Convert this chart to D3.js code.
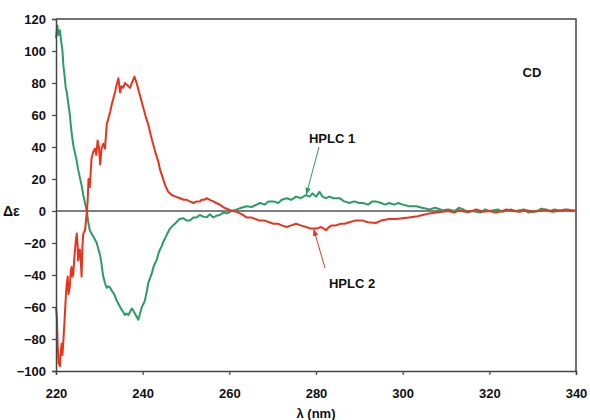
<!DOCTYPE html>
<html>
<head>
<meta charset="utf-8">
<script src="https://cdn.jsdelivr.net/npm/d3@7"></script>
<style>
  body { margin: 0; background: #fff; }
  svg text { font-family: "Liberation Sans", Arial, sans-serif; font-weight: bold; fill: #111; }
</style>
</head>
<body>
<svg id="chart" width="590" height="420"></svg>
<script>
// HPLC 1 (green) : wavelength (nm) / delta epsilon
const hplc1Nm = [220.0,220.3,220.6,220.9,221.2,221.5,221.7,222.0,222.2,222.5,222.8,223.0,223.2,223.4,223.6,223.8,224.0,224.4,224.8,225.1,225.5,225.9,226.3,226.7,227.1,227.5,227.8,228.2,228.6,229.0,229.4,229.8,230.2,230.5,230.9,231.3,231.7,232.1,232.5,232.9,233.2,233.6,234.0,234.4,234.8,235.2,235.5,235.9,236.3,236.7,237.1,237.5,237.8,238.2,238.6,239.0,239.4,239.8,240.2,240.5,240.9,241.3,241.7,242.1,242.5,242.8,243.2,243.6,244.0,244.4,244.8,245.2,245.7,246.3,247.0,247.8,248.5,249.4,250.2,250.9,251.7,252.5,253.2,254.0,254.8,255.5,256.3,257.0,257.8,258.6,259.4,260.5,261.7,262.8,264.0,265.2,266.3,267.1,268.2,269.0,270.2,271.3,272.1,273.2,274.3,275.4,276.5,277.7,278.5,279.2,280.0,280.8,281.5,282.3,283.1,284.0,285.4,286.5,287.7,288.8,290.0,290.8,292.0,293.0,293.8,295.0,296.0,296.9,298.0,299.0,300.0,301.5,303.1,304.5,306.2,307.5,309.2,310.5,312,313,314,315,316,318,319,320,322,323,325,326,328,329,331,332,334,335,337,338,340];
const hplc1De = [108,116,110,113,106,100,91,84,78,74,68,64,60,54,49,45,41,36,31,26,21,16,10,5,0,-8,-12,-14,-16,-18,-20,-24,-28,-33,-41,-45,-48,-47,-48,-50,-51,-53,-56,-58,-60,-62,-63,-65,-64,-65,-63,-61,-62,-64,-66,-68,-64,-60,-58,-56,-51,-45,-42,-39,-35,-33,-31,-27,-24,-22,-19,-17,-14,-11,-9,-7,-5,-4.5,-6,-6,-4,-4,-2.5,-3.5,-4,-2,-4,-3,-2.5,-1,-1.5,0,1,2,3,2.5,4,5,4,6,6,5,7,8,7,9,8,10,9,11,9,12,9,8,9,8,8,6,5,6,5,5,4,6,6,5,4,5,4,5,4,3,3,2,1,2,0.5,1,0,2,1,-1,0,-1,1,0,1,-0.5,1,0,1,-1,0,1.5,0,1,0,1,0];

// HPLC 2 (red)
const hplc2Nm = [220.0,220.2,220.4,220.6,220.9,221.1,221.3,221.5,221.7,221.9,222.1,222.3,222.5,222.7,222.9,223.2,223.4,223.6,223.8,224.0,224.2,224.4,224.6,224.8,225.0,225.1,225.3,225.5,225.7,225.9,226.1,226.3,226.7,227.1,227.3,227.5,227.8,228.2,228.6,229.0,229.3,229.6,229.9,230.2,230.5,230.9,231.3,231.7,232.1,232.5,232.9,233.2,233.6,234.0,234.4,234.8,235.1,235.5,235.9,236.3,236.7,237.1,237.5,237.8,238.1,238.6,239.0,239.4,239.8,240.2,240.7,241.3,241.9,242.5,243.0,243.6,244.0,244.6,245.2,245.9,246.7,247.6,248.6,249.5,250.2,250.9,251.7,252.5,253.2,253.6,254.2,254.8,255.5,256.3,257.0,257.8,258.8,259.8,260.7,261.7,262.8,264.0,265.0,266.0,267.1,268.2,269.2,270.2,271.3,272.1,273.2,274.3,275.4,276.5,277.7,278.8,280.0,281.2,282.3,283.0,283.6,284.6,285.7,286.6,287.7,289.0,290.8,292.0,293.8,295.0,296.9,298.5,300.0,301.5,303.1,304.6,306.2,307.7,309.2,310.5,312,313,314.5,316,317,318.5,320,321.5,323,324,325.5,327,328.5,330,331.5,333,334.5,336,337.5,339,340];
const hplc2De = [-60,-66,-85,-95,-97,-88,-83,-90,-81,-72,-62,-52,-45,-41,-52,-47,-38,-35,-41,-39,-30,-24,-18,-14,-22,-31,-28,-24,-30,-41,-22,-14,-12,-1,6,20,15,33,37,39,35,44,40,29,39,42,39,54,58,62,67,70,74,79,83,74,78,77,80,79,78,77,80,82,84,80,76,72,68,64,59,54,47,41,36,31,26,21,16,12,10,9,8,7,7,6,5,6,6,7,7,8,7,6,5,4,2,1,0,-0.5,-2,-4,-4,-5,-6,-6,-7,-8,-8,-9,-10,-9,-8,-9,-10,-11,-11,-10,-12,-10,-9,-9,-8,-8,-7,-6,-6,-7,-7.5,-6,-5,-5,-4.5,-4,-3.5,-2.5,-1.5,-1,-0.5,0,-1,0.5,-0.5,0,1,-0.5,0,-1,0,1,0,-0.5,0.5,-0.5,0,1,-0.5,0,1,0,0.5];

const xTicks = [220, 240, 260, 280, 300, 320, 340];
const yTicks = [120, 100, 80, 60, 40, 20, 0, -20, -40, -60, -80, -100];

const svg = d3.select('#chart');
const plotL = 56, plotR = 576, plotT = 19, plotB = 371;

const x = d3.scaleLinear().domain([220, 340]).range([plotL, plotR]);
const y = d3.scaleLinear().domain([-100, 120]).range([plotB, plotT]);

// frame (top and right)
svg.append('path')
  .attr('d', `M${plotL},${plotT}H${plotR}V${plotB}`)
  .attr('fill', 'none').attr('stroke', '#444').attr('stroke-width', 1.5);

// zero line
svg.append('line')
  .attr('x1', plotL).attr('x2', plotR)
  .attr('y1', y(0)).attr('y2', y(0))
  .attr('stroke', '#555').attr('stroke-width', 1.6);

const line = d3.line()
  .x((d) => x(d[0]))
  .y((d) => y(d[1]));

svg.append('path')
  .datum(hplc1Nm.map((v, i) => [v, hplc1De[i]]))
  .attr('d', line)
  .attr('fill', 'none').attr('stroke', '#2a9d62').attr('stroke-width', 2)
  .attr('stroke-linejoin', 'round');

svg.append('path')
  .datum(hplc2Nm.map((v, i) => [v, hplc2De[i]]))
  .attr('d', line)
  .attr('fill', 'none').attr('stroke', '#e8341c').attr('stroke-width', 2)
  .attr('stroke-linejoin', 'round');

// axes
const xAxis = svg.append('g')
  .attr('transform', `translate(0,${plotB})`)
  .call(d3.axisBottom(x).tickValues(xTicks).tickSize(4).tickPadding(14));
const yAxis = svg.append('g')
  .attr('transform', `translate(${plotL},0)`)
  .call(d3.axisLeft(y).tickValues(yTicks).tickSize(4).tickPadding(6));

[xAxis, yAxis].forEach((g) => {
  g.select('.domain').attr('stroke', '#444').attr('stroke-width', 1.5);
  g.selectAll('.tick line').attr('stroke', '#444').attr('stroke-width', 1.2);
  g.selectAll('.tick text')
    .attr('font-family', '"Liberation Sans", Arial, sans-serif')
    .attr('font-weight', 'bold').attr('font-size', 13).attr('fill', '#111');
});

// axis titles
svg.append('text').attr('x', 316).attr('y', 418)
  .attr('text-anchor', 'middle').attr('font-size', 13).text('λ (nm)');
svg.append('text').attr('x', 3).attr('y', y(0) + 5)
  .attr('font-size', 14).text('Δε');

svg.append('text').attr('x', 532).attr('y', 77)
  .attr('text-anchor', 'middle').attr('font-size', 13).text('CD');

// annotations with arrows
const defs = svg.append('defs');
[['ag', '#2a9d62'], ['ar', '#e8341c']].forEach(([id, c]) => {
  defs.append('marker').attr('id', id)
    .attr('viewBox', '0 0 10 10').attr('refX', 9).attr('refY', 5)
    .attr('markerWidth', 7).attr('markerHeight', 7).attr('orient', 'auto')
    .append('path').attr('d', 'M0,1L10,5L0,9Z').attr('fill', c);
});

svg.append('text').attr('x', 332).attr('y', 143)
  .attr('text-anchor', 'middle').attr('font-size', 13).text('HPLC 1');
svg.append('line')
  .attr('x1', 319).attr('y1', 147).attr('x2', x(277.8)).attr('y2', y(10) - 1)
  .attr('stroke', '#2a9d62').attr('stroke-width', 1)
  .attr('marker-end', 'url(#ag)');

svg.append('text').attr('x', 352).attr('y', 288)
  .attr('text-anchor', 'middle').attr('font-size', 13).text('HPLC 2');
svg.append('line')
  .attr('x1', 325).attr('y1', 268).attr('x2', x(279.5)).attr('y2', y(-11) + 1)
  .attr('stroke', '#e8341c').attr('stroke-width', 1)
  .attr('marker-end', 'url(#ar)');
</script>
</body>
</html>
